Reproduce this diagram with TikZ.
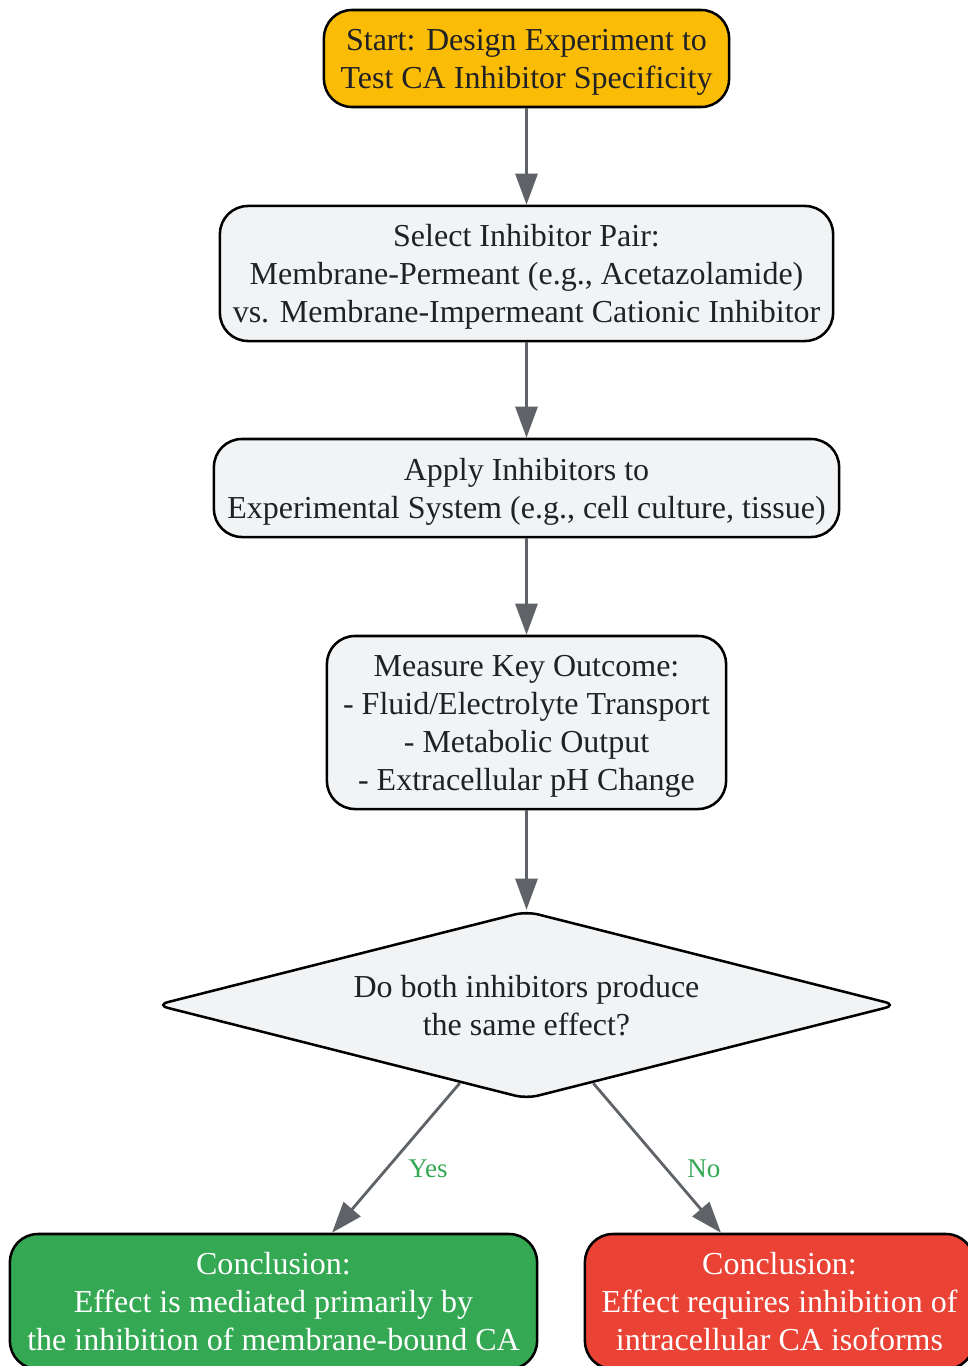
\documentclass[tikz,border=0pt]{standalone}
\usepackage{fontspec}
\setmainfont{Liberation Serif}
\usetikzlibrary{shapes.geometric,arrows.meta}
\definecolor{startcol}{HTML}{FBBC05}
\definecolor{stepgrey}{HTML}{F1F3F4}
\definecolor{yesgreen}{HTML}{34A853}
\definecolor{nored}{HTML}{EA4335}
\definecolor{txtdark}{HTML}{202124}
\definecolor{edgegrey}{HTML}{5F6368}

\begin{document}
\begin{tikzpicture}[x=0.025cm,y=-0.025cm,
    box/.style={draw=black,line width=1.8pt,rounded corners=0.7cm,fill=stepgrey,
      text=txtdark,align=center,inner sep=2pt,text depth=0pt,
      font=\fontsize{22.76}{27.03}\selectfont},
    flow/.style={draw=edgegrey,line width=2pt,-{Triangle[length=0.775cm,width=0.55cm]}},
    lbl/.style={text=yesgreen,font=\fontsize{19.2}{23}\selectfont,anchor=west,
      inner sep=0pt,xshift=0.5cm}]
    \useasboundingbox[fill=white] (0,0) rectangle (967,1366);

    % steps
    \node[box,fill=startcol,minimum width=10.125cm,minimum height=2.425cm] (start) at (526.5,58.5)
        {Start: Design Experiment to\\Test CA Inhibitor Specificity};
    \node[box,minimum width=15.325cm,minimum height=3.375cm] (pair) at (526.5,273.5)
        {Select Inhibitor Pair:\\Membrane-Permeant (e.g., Acetazolamide)\\vs. Membrane-Impermeant Cationic Inhibitor};
    \node[box,minimum width=15.625cm,minimum height=2.45cm] (apply) at (526.5,488)
        {Apply Inhibitors to\\Experimental System (e.g., cell culture, tissue)};
    \node[box,minimum width=9.975cm,minimum height=4.325cm] (measure) at (526.5,722.5)
        {Measure Key Outcome:\\- Fluid/Electrolyte Transport\\- Metabolic Output\\- Extracellular pH Change};

    % decision
    \node[box,diamond,aspect=3.92,inner sep=0pt,rounded corners=0.3cm,
        minimum width=18.525cm,minimum height=4.7cm] (same) at (526.5,1005)
        {Do both inhibitors produce\\the same effect?};

    % conclusions
    \node[box,fill=yesgreen,text=white,minimum width=13.175cm,minimum height=3.375cm] (membr) at (273.5,1301.5)
        {Conclusion:\\Effect is mediated primarily by\\the inhibition of membrane-bound CA};
    \node[box,fill=nored,text=white,minimum width=9.725cm,minimum height=3.375cm] (intra) at (779.5,1301.5)
        {Conclusion:\\Effect requires inhibition of\\intracellular CA isoforms};

    \draw[flow] (start) -- (pair);
    \draw[flow] (pair) -- (apply);
    \draw[flow] (apply) -- (measure);
    \draw[flow] (measure) -- (same);
    \draw[flow] (same) -- node[lbl,pos=0.57]{Yes} (membr);
    \draw[flow] (same) -- node[lbl,pos=0.57]{No} (intra);
\end{tikzpicture}
\end{document}
